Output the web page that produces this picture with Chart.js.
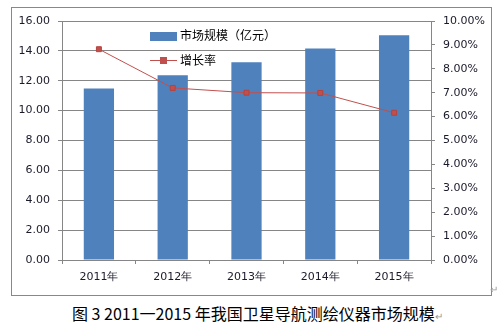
<!DOCTYPE html>
<html>
<head>
<meta charset="utf-8">
<script src="https://cdn.jsdelivr.net/npm/chart.js@4.4.1/dist/chart.umd.min.js"></script>
<style>
  body { margin: 0; background: #fff; width: 502px; height: 329px; position: relative; overflow: hidden; }
  #frame { position: absolute; left: 11px; top: 7px; width: 479px; height: 287px; border: 1px solid #888; }
  #wrap { position: absolute; left: 0; top: 0; width: 502px; height: 300px; }
  #caption { position: absolute; left: 72px; top: 302px; font-family: "Noto Sans CJK SC", sans-serif; font-size: 16px; color: #000; white-space: nowrap; line-height: 22px; }
  .ret { color: #999; font-size: 10px; }
  #ret2 { position: absolute; left: 490px; top: 284px; }
</style>
</head>
<body>
<div id="frame"></div>
<div id="wrap"><canvas id="chart" width="502" height="300"></canvas></div>
<div id="caption">图 3 2011一2015 年我国卫星导航测绘仪器市场规模<span class="ret">↵</span></div>
<span id="ret2" class="ret">↵</span>
<script>
const years = ['2011年', '2012年', '2013年', '2014年', '2015年'];
const marketSize = [11.48, 12.36, 13.24, 14.16, 15.05];
const growthRate = [8.82, 7.2, 7.0, 6.99, 6.16];

const tickFont = { family: 'DejaVu Sans', size: 11 };
const tickColor = '#1a1a2a';
const gridColor = '#868686';

// legend drawn inside the plot area, like the original
const innerLegend = {
    id: 'innerLegend',
    afterDraw(chart) {
        const ctx = chart.ctx;
        ctx.save();
        ctx.fillStyle = '#4F81BD';
        ctx.fillRect(150, 32, 27, 9);
        ctx.strokeStyle = '#C0504D';
        ctx.lineWidth = 1;
        ctx.beginPath();
        ctx.moveTo(150, 60.5);
        ctx.lineTo(177, 60.5);
        ctx.stroke();
        ctx.fillStyle = '#C0504D';
        ctx.fillRect(160, 57, 7, 7);
        ctx.fillStyle = '#000';
        ctx.font = '12px "Noto Sans CJK SC"';
        ctx.textBaseline = 'middle';
        ctx.fillText('市场规模（亿元）', 180, 35);
        ctx.fillText('增长率', 180, 60);
        ctx.restore();
    }
};

const ctx = document.getElementById('chart').getContext('2d');
new Chart(ctx, {
    type: 'bar',
    data: {
        labels: years,
        datasets: [
            {
                type: 'line',
                label: '增长率',
                data: growthRate,
                yAxisID: 'y1',
                borderColor: '#C0504D',
                borderWidth: 1,
                backgroundColor: '#C0504D',
                pointStyle: 'rect',
                pointRadius: 3.5,
                pointBorderColor: '#B5433F',
                pointBorderWidth: 1,
                tension: 0
            },
            {
                label: '市场规模（亿元）',
                data: marketSize,
                yAxisID: 'y',
                backgroundColor: '#4F81BD',
                categoryPercentage: 1,
                barPercentage: 0.41
            }
        ]
    },
    options: {
        responsive: false,
        animation: false,
        layout: { padding: { top: 21, left: 0, right: 0, bottom: 0 } },
        plugins: {
            legend: { display: false },
            tooltip: { enabled: false }
        },
        scales: {
            x: {
                grid: { drawOnChartArea: false, drawTicks: true, tickLength: 4, color: gridColor, offset: true },
                border: { color: gridColor },
                ticks: { font: tickFont, color: tickColor, padding: 7 },
                afterFit: s => { s.height = 40; }
            },
            y: {
                position: 'left',
                min: 0,
                max: 16,
                ticks: { stepSize: 2, font: tickFont, color: tickColor, padding: 8, callback: v => v.toFixed(2) },
                grid: { color: gridColor, tickLength: 4 },
                border: { color: gridColor },
                afterFit: s => { s.width = 62; }
            },
            y1: {
                position: 'right',
                min: 0,
                max: 10,
                ticks: { stepSize: 1, font: tickFont, color: tickColor, padding: 8, callback: v => v.toFixed(2) + '%' },
                grid: { drawOnChartArea: false, color: gridColor, tickLength: 4 },
                border: { color: gridColor },
                afterFit: s => { s.width = 71; }
            }
        }
    },
    plugins: [innerLegend]
});
</script>
</body>
</html>
